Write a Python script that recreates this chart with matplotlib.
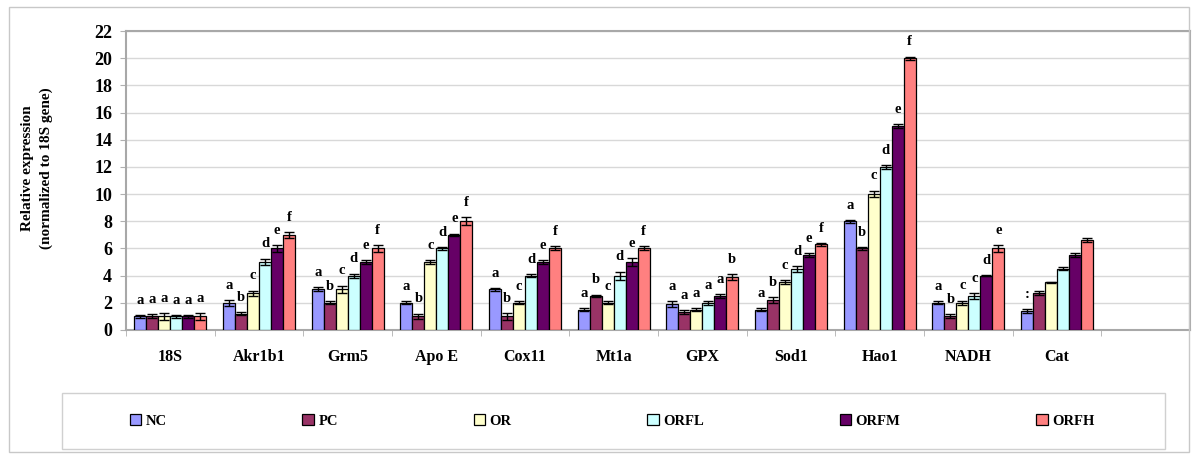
import numpy as np
import matplotlib.pyplot as plt
from matplotlib.patches import Rectangle

plt.rcParams['font.family'] = ['Liberation Serif', 'DejaVu Serif']
plt.rcParams['font.weight'] = 'bold'

genes = ["18S", "Akr1b1", "Grm5", "Apo E", "Cox11", "Mt1a", "GPX", "Sod1", "Hao1", "NADH", "Cat", ""]
groups = ["NC", "PC", "OR", "ORFL", "ORFM", "ORFH"]
colors = ["#9999FF", "#993366", "#FFFFCC", "#CCFFFF", "#660066", "#FF8080"]

# values per group (one per gene, last slot empty)
nc   = [1.0, 2.0, 3.0, 2.0, 3.0, 1.5, 1.9, 1.5,  8.0, 2.0, 1.4]
pc   = [1.0, 1.2, 2.0, 1.0, 1.0, 2.5, 1.3, 2.2,  6.0, 1.0, 2.7]
orr  = [1.0, 2.7, 3.0, 5.0, 2.0, 2.0, 1.5, 3.5, 10.0, 2.0, 3.5]
orfl = [1.0, 5.0, 4.0, 6.0, 4.0, 4.0, 2.0, 4.5, 12.0, 2.5, 4.5]
orfm = [1.0, 6.0, 5.0, 7.0, 5.0, 5.0, 2.5, 5.5, 15.0, 4.0, 5.5]
orfh = [1.0, 7.0, 6.0, 8.0, 6.0, 6.0, 3.9, 6.3, 20.0, 6.0, 6.6]

nc_err   = [0.10, 0.20, 0.15, 0.10, 0.10, 0.10, 0.20, 0.10, 0.10, 0.10, 0.15]
pc_err   = [0.15, 0.10, 0.10, 0.20, 0.25, 0.10, 0.15, 0.20, 0.10, 0.15, 0.15]
orr_err  = [0.25, 0.20, 0.25, 0.15, 0.10, 0.10, 0.10, 0.15, 0.25, 0.15, 0.05]
orfl_err = [0.10, 0.25, 0.15, 0.10, 0.10, 0.30, 0.15, 0.20, 0.15, 0.20, 0.10]
orfm_err = [0.10, 0.25, 0.15, 0.10, 0.15, 0.30, 0.15, 0.15, 0.15, 0.05, 0.15]
orfh_err = [0.25, 0.20, 0.25, 0.30, 0.15, 0.15, 0.20, 0.10, 0.10, 0.25, 0.15]

nc_let   = ["a", "a", "a", "a", "a", "a", "a", "a", "a", "a", ":"]
pc_let   = ["a", "b", "b", "b", "b", "b", "a", "b", "b", "b", ""]
orr_let  = ["a", "c", "c", "c", "c", "c", "a", "c", "c", "c", ""]
orfl_let = ["a", "d", "d", "d", "d", "d", "a", "d", "d", "c", ""]
orfm_let = ["a", "e", "e", "e", "e", "e", "a", "e", "e", "d", ""]
orfh_let = ["a", "f", "f", "f", "f", "f", "b", "f", "f", "e", ""]

series = [nc, pc, orr, orfl, orfm, orfh]
errs = [nc_err, pc_err, orr_err, orfl_err, orfm_err, orfh_err]
letters = [nc_let, pc_let, orr_let, orfl_let, orfm_let, orfh_let]

fig = plt.figure(figsize=(12, 4.66), dpi=100)
ax = fig.add_axes([126/1200, 1-330/466, (1190-126)/1200, (330-31)/466])

x = np.arange(len(series[0]))
w = 0.135
for i, (vals, e, lets) in enumerate(zip(series, errs, letters)):
    xs = x + (i - 2.5) * w
    ax.bar(xs, vals, w, color=colors[i], edgecolor="black", linewidth=0.9, label=groups[i], zorder=3)
    ax.errorbar(xs, vals, yerr=e, fmt="none", ecolor="black", elinewidth=1, capsize=3.5, capthick=1, zorder=4)
    for xi, v, ei, t in zip(xs, vals, e, lets):
        ax.annotate(t, (xi, v + ei), xytext=(0, 6), textcoords="offset points",
                    ha="center", va="bottom", fontsize=10.5, fontweight="bold")

ax.set_xlim(-0.5, len(genes) - 0.5)
ax.set_ylim(0, 22)
ax.set_yticks(np.arange(0, 23, 2))
ax.set_xticks(np.arange(len(genes)))
ax.set_xticklabels(genes, fontsize=11.5, fontweight="bold")
ax.set_xticks(np.arange(len(genes)) - 0.5, minor=True)
ax.tick_params(axis="x", which="major", length=0, pad=14)
ax.tick_params(axis="x", which="minor", length=4, color="#b0b0b0")
ax.tick_params(axis="y", length=4, color="#b0b0b0", labelsize=13, pad=6)
for lab in ax.get_yticklabels():
    lab.set_fontweight("bold")
ax.yaxis.grid(True, color="#d8d8d8", linewidth=1, zorder=0)
for s in ax.spines.values():
    s.set_color("#a8a8a8")
    s.set_linewidth(1.5)

fig.text(37/1200, 1-168/466, "Relative expression\n(normalized to 18S gene)", rotation=90,
         ha="center", va="center", fontsize=11, fontweight="bold", linespacing=1.5)

# outer chart frame and legend box
fig.patches.append(Rectangle((9/1200, 1-452/466), (1189-9)/1200, (452-7)/466, transform=fig.transFigure,
                             fill=False, edgecolor="#c8c8c8", linewidth=1))
fig.patches.append(Rectangle((62/1200, 1-449/466), (1165-62)/1200, (449-393)/466, transform=fig.transFigure,
                             fill=False, edgecolor="#d0d0d0", linewidth=1))

handles, labels = ax.get_legend_handles_labels()
fig.legend(handles, labels, loc="center", bbox_to_anchor=(612/1200, 1-421/466), ncol=6, frameon=False,
           handlelength=0.8, handleheight=0.8, handletextpad=0.3, columnspacing=9.3,
           prop={"weight": "bold", "size": 10.5})

fig.savefig("out.png", dpi=100)
